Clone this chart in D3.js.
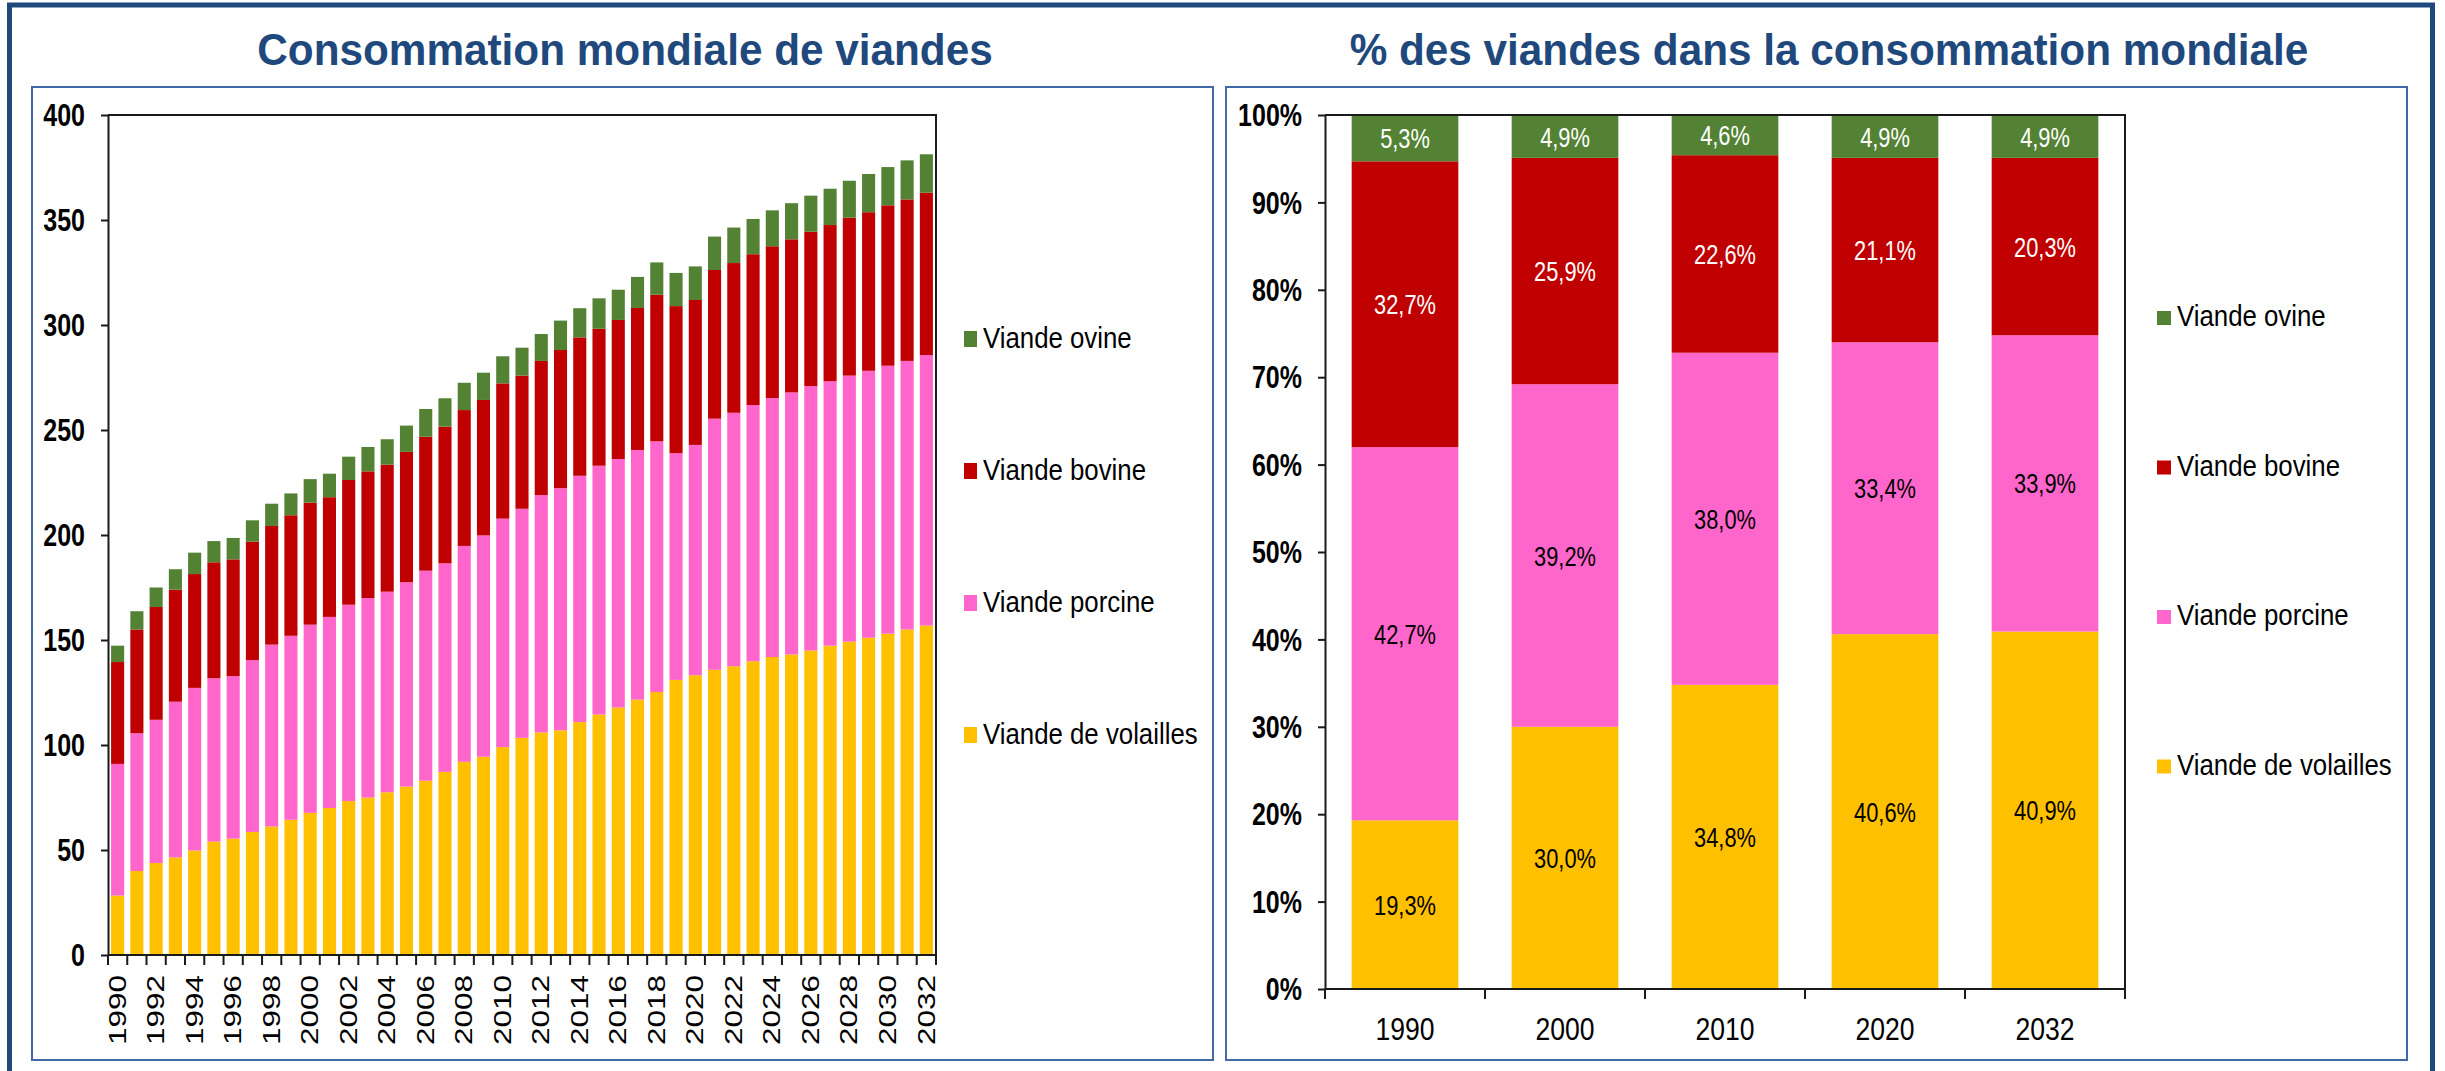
<!DOCTYPE html>
<html lang="fr">
<head>
<meta charset="utf-8">
<title>Consommation mondiale de viandes</title>
<script src="https://cdn.jsdelivr.net/npm/d3@7"></script>
<style>
  body { margin: 0; background: #fff; }
  svg { display: block; font-family: "Liberation Sans", Arial, sans-serif; }
</style>
</head>
<body>
<script>
// ---- data (Mt) ----
var years = ["1990","1991","1992","1993","1994","1995","1996","1997","1998","1999",
             "2000","2001","2002","2003","2004","2005","2006","2007","2008","2009",
             "2010","2011","2012","2013","2014","2015","2016","2017","2018","2019",
             "2020","2021","2022","2023","2024","2025","2026","2027","2028","2029",
             "2030","2031","2032"];
var volailles = [28.3, 40.0, 43.8, 46.5, 49.8, 54.0, 55.4, 58.6, 61.2, 64.4,
                 67.7, 70.0, 73.3, 75.0, 77.5, 80.2, 83.0, 87.2, 92.0, 94.4,
                 99.0, 103.4, 106.0, 107.0, 110.9, 114.5, 117.9, 121.6, 125.2, 131.0,
                 133.2, 135.8, 137.5, 139.9, 141.9, 143.1, 145.0, 147.3, 149.2, 151.1,
                 153.0, 155.0, 156.9];
var porcine = [62.7, 65.6, 68.2, 74.1, 77.4, 77.8, 77.4, 81.8, 86.6, 87.6,
               89.6, 91.0, 93.5, 95.0, 95.5, 97.3, 100.0, 99.3, 102.8, 105.4,
               108.8, 109.1, 113.0, 115.3, 117.3, 118.5, 118.3, 118.9, 119.4, 108.0,
               109.7, 119.6, 120.7, 122.0, 123.3, 124.8, 125.9, 125.9, 126.7, 127.1,
               127.6, 127.9, 128.8];
var bovine = [48.5, 49.4, 53.7, 53.4, 54.2, 55.2, 55.6, 56.4, 56.5, 57.4,
              58.1, 57.0, 59.4, 60.3, 60.5, 62.1, 63.8, 65.1, 64.7, 64.5,
              64.4, 63.4, 63.9, 65.8, 65.9, 65.2, 66.2, 67.6, 69.8, 70.0,
              69.0, 70.8, 71.3, 71.8, 72.3, 72.9, 73.5, 74.4, 75.2, 75.5,
              76.4, 76.9, 77.3];
var ovine = [7.8, 8.7, 9.3, 9.7, 10.2, 10.1, 10.2, 10.2, 10.6, 10.4,
             11.2, 11.2, 11.1, 11.6, 12.1, 12.5, 13.2, 13.5, 13.0, 13.0,
             12.9, 13.3, 12.8, 14.0, 13.9, 14.5, 14.4, 14.8, 15.4, 15.8,
             16.0, 15.9, 16.9, 16.8, 17.1, 17.2, 17.2, 17.3, 17.6, 18.2,
             18.2, 18.6, 18.3];
var yTicks = [0, 50, 100, 150, 200, 250, 300, 350, 400];

// shares (%)
var shareYears = ["1990", "2000", "2010", "2020", "2032"];
var shareVolailles = [19.3, 30.0, 34.8, 40.6, 40.9];
var sharePorcine = [42.7, 39.2, 38.0, 33.4, 33.9];
var shareBovine = [32.7, 25.9, 22.6, 21.1, 20.3];
var shareOvine = [5.3, 4.9, 4.6, 4.9, 4.9];
var pctTicks = [0, 10, 20, 30, 40, 50, 60, 70, 80, 90, 100];

var keys = ["volailles", "porcine", "bovine", "ovine"];
var labels = {volailles: "Viande de volailles", porcine: "Viande porcine",
              bovine: "Viande bovine", ovine: "Viande ovine"};
var colors = {volailles: "#FFC000", porcine: "#FF66CC", bovine: "#C00000", ovine: "#548235"};
var labelFill = {volailles: "#000", porcine: "#000", bovine: "#fff", ovine: "#fff"};

var W = 2445, H = 1071;
var frameBlue = "#1F497D", panelBlue = "#4169A8", titleBlue = "#1F497D", ink = "#1a1a1a";

var svg = d3.select("body").append("svg")
            .attr("width", W)
            .attr("height", H);

// outer frame and the two panels
svg.append("path")
   .attr("d", "M9.5,1071V5H2432.5V1071")
   .attr("fill", "none")
   .attr("stroke", frameBlue)
   .attr("stroke-width", 5);
[[32, 1213], [1226, 2407]].forEach(function(p) {
  svg.append("rect")
     .attr("x", p[0]).attr("y", 87)
     .attr("width", p[1] - p[0]).attr("height", 973)
     .attr("fill", "none")
     .attr("stroke", panelBlue)
     .attr("stroke-width", 2);
});

// titles
function title(x, txt) {
  svg.append("g").attr("transform", "translate(" + x + ",65)")
     .append("text")
     .attr("text-anchor", "middle")
     .attr("transform", "scale(0.94,1)")
     .style("font-size", "45px")
     .style("font-weight", "bold")
     .attr("fill", titleBlue)
     .text(txt);
}
title(625, "Consommation mondiale de viandes");
title(1829, "% des viandes dans la consommation mondiale");

function legend(x, y0, gap, sw, sh) {
  keys.slice().reverse().forEach(function(k, i) {
    var by = y0 + i * gap;
    svg.append("rect")
       .attr("x", x).attr("y", by - sh - 1)
       .attr("width", sw).attr("height", sh)
       .attr("fill", colors[k]);
    svg.append("g").attr("transform", "translate(" + (x + sw + 6) + "," + by + ")")
       .append("text")
       .attr("transform", "scale(0.89,1)")
       .style("font-size", "29px")
       .attr("fill", "#000")
       .text(labels[k]);
  });
}

// ---------- left chart: stacked volumes ----------
var rows = years.map(function(y, i) {
  return {year: y, volailles: volailles[i], porcine: porcine[i], bovine: bovine[i], ovine: ovine[i]};
});
var stacked = d3.stack().keys(keys)(rows);

var lx = d3.scaleBand().domain(years).range([108, 936]).paddingInner(0.32).paddingOuter(0.16);
var ly = d3.scaleLinear().domain([0, 400]).range([955, 115]);

var left = svg.append("g");
left.selectAll("g.layer")
    .data(stacked)
    .enter().append("g")
    .attr("class", "layer")
    .attr("fill", function(d) { return colors[d.key]; })
    .selectAll("rect")
    .data(function(d) { return d; })
    .enter().append("rect")
    .attr("x", function(d) { return lx(d.data.year); })
    .attr("y", function(d) { return ly(d[1]); })
    .attr("width", lx.bandwidth())
    .attr("height", function(d) { return ly(d[0]) - ly(d[1]); });

// plot area box (top + right)
left.append("path")
    .attr("d", "M" + lx.range()[0] + "," + ly(400) + "H" + lx.range()[1] + "V" + ly(0))
    .attr("fill", "none").attr("stroke", ink).attr("stroke-width", 2);

var lyAxis = left.append("g")
    .attr("transform", "translate(" + lx.range()[0] + ",0)")
    .call(d3.axisLeft(ly).tickValues(yTicks).tickSize(7).tickSizeOuter(0));
lyAxis.selectAll("path, line").attr("stroke", ink).attr("stroke-width", 2);
lyAxis.selectAll("text")
    .attr("x", -23 / 0.82)
    .attr("dy", "0.35em")
    .attr("transform", "scale(0.82,1)")
    .attr("fill", "#000")
    .style("font-size", "30.5px")
    .style("font-weight", "bold")
    .style("font-family", "'Liberation Sans', Arial, sans-serif");

// x axis: line, ticks at category boundaries, rotated labels every 2 years
var lstep = lx.step(), lhalf = lstep * lx.paddingInner() / 2;
left.append("line")
    .attr("x1", lx.range()[0]).attr("x2", lx.range()[1])
    .attr("y1", ly(0)).attr("y2", ly(0))
    .attr("stroke", ink).attr("stroke-width", 2);
var lBounds = years.map(function(y) { return lx(y) - lhalf; }).concat([lx.range()[1]]);
left.selectAll("line.xtick")
    .data(lBounds)
    .enter().append("line")
    .attr("class", "xtick")
    .attr("x1", function(d) { return d; }).attr("x2", function(d) { return d; })
    .attr("y1", ly(0)).attr("y2", ly(0) + 10)
    .attr("stroke", ink).attr("stroke-width", 2);
left.selectAll("text.xlab")
    .data(years.filter(function(y, i) { return i % 2 === 0; }))
    .enter().append("text")
    .attr("class", "xlab")
    .attr("transform", function(d) {
      return "translate(" + (lx(d) + lx.bandwidth() / 2) + "," + (ly(0) + 20) + ") rotate(-90) scale(1,0.76)";
    })
    .attr("text-anchor", "end")
    .attr("dominant-baseline", "central")
    .style("font-size", "31.5px")
    .attr("fill", "#000")
    .text(function(d) { return d; });

legend(964, 348, 132, 13, 16);

// ---------- right chart: 100% stacked shares ----------
var shareRows = shareYears.map(function(y, i) {
  return {year: y, volailles: shareVolailles[i], porcine: sharePorcine[i],
          bovine: shareBovine[i], ovine: shareOvine[i]};
});
var shareStack = d3.stack().keys(keys)(shareRows);

var rx = d3.scaleBand().domain(shareYears).range([1325, 2125]).paddingInner(1 / 3).paddingOuter(1 / 6);
var ry = d3.scaleLinear().domain([0, 100]).range([989, 115]);
var fmt = function(v) { return d3.format(".1f")(v).replace(".", ",") + "%"; };

var right = svg.append("g");
var layers = right.selectAll("g.layer")
    .data(shareStack)
    .enter().append("g")
    .attr("class", "layer");
layers.selectAll("rect")
    .data(function(d) { return d; })
    .enter().append("rect")
    .attr("x", function(d) { return rx(d.data.year); })
    .attr("y", function(d) { return ry(d[1]); })
    .attr("width", rx.bandwidth())
    .attr("height", function(d) { return ry(d[0]) - ry(d[1]); })
    .attr("fill", function() { return colors[d3.select(this.parentNode).datum().key]; });
layers.each(function(layer) {
  d3.select(this).selectAll("g.lbl")
    .data(layer)
    .enter().append("g")
    .attr("class", "lbl")
    .attr("transform", function(d) {
      return "translate(" + (rx(d.data.year) + rx.bandwidth() / 2) + "," + ry((d[0] + d[1]) / 2) + ")";
    })
    .append("text")
    .attr("transform", "scale(0.78,1)")
    .attr("text-anchor", "middle")
    .attr("dy", "0.36em")
    .style("font-size", "28px")
    .attr("fill", labelFill[layer.key])
    .text(function(d) { return fmt(d[1] - d[0]); });
});

right.append("path")
     .attr("d", "M" + rx.range()[0] + "," + ry(100) + "H" + rx.range()[1] + "V" + ry(0))
     .attr("fill", "none").attr("stroke", ink).attr("stroke-width", 2);

var ryAxis = right.append("g")
    .attr("transform", "translate(" + rx.range()[0] + ",0)")
    .call(d3.axisLeft(ry).tickValues(pctTicks).tickSize(7).tickSizeOuter(0)
            .tickFormat(function(d) { return d + "%"; }));
ryAxis.selectAll("path, line").attr("stroke", ink).attr("stroke-width", 2);
ryAxis.selectAll("text")
    .attr("x", -23 / 0.82)
    .attr("dy", "0.35em")
    .attr("transform", "scale(0.82,1)")
    .attr("fill", "#000")
    .style("font-size", "30.5px")
    .style("font-weight", "bold")
    .style("font-family", "'Liberation Sans', Arial, sans-serif");

var rstep = rx.step(), rhalf = rstep * rx.paddingInner() / 2;
right.append("line")
     .attr("x1", rx.range()[0]).attr("x2", rx.range()[1])
     .attr("y1", ry(0)).attr("y2", ry(0))
     .attr("stroke", ink).attr("stroke-width", 2);
var rBounds = shareYears.map(function(y) { return rx(y) - rhalf; }).concat([rx.range()[1]]);
right.selectAll("line.xtick")
     .data(rBounds)
     .enter().append("line")
     .attr("class", "xtick")
     .attr("x1", function(d) { return d; }).attr("x2", function(d) { return d; })
     .attr("y1", ry(0)).attr("y2", ry(0) + 10)
     .attr("stroke", ink).attr("stroke-width", 2);
right.selectAll("g.xlab")
     .data(shareYears)
     .enter().append("g")
     .attr("class", "xlab")
     .attr("transform", function(d) { return "translate(" + (rx(d) + rx.bandwidth() / 2) + ",1040)"; })
     .append("text")
     .attr("transform", "scale(0.83,1)")
     .attr("text-anchor", "middle")
     .style("font-size", "32px")
     .attr("fill", "#000")
     .text(function(d) { return d; });

legend(2157, 326, 149.5, 14, 14);
</script>
</body>
</html>
